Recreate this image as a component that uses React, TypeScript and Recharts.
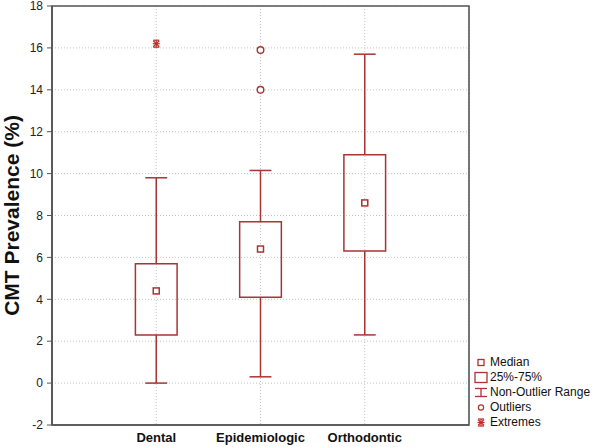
import React from "react";
import {
  ComposedChart,
  XAxis,
  YAxis,
  CartesianGrid,
  ReferenceArea,
  ReferenceLine,
  Scatter,
  Legend,
} from "recharts";

const categories = ["Dental", "Epidemiologic", "Orthodontic"];
const whiskerLow = [0.0, 0.3, 2.3];
const quartile1 = [2.3, 4.1, 6.3];
const medians = [4.4, 6.4, 8.6];
const quartile3 = [5.7, 7.7, 10.9];
const whiskerHigh = [9.8, 10.15, 15.7];
const outlierCategory = ["Epidemiologic", "Epidemiologic"];
const outlierValues = [14.0, 15.9];
const extremeCategory = ["Dental"];
const extremeValues = [16.2];
const yTicks = [-2, 0, 2, 4, 6, 8, 10, 12, 14, 16, 18];
const legendLabels = ["Median", "25%-75%", "Non-Outlier Range", "Outliers", "Extremes"];

const RED = "#a83434";
const EXT_RED = "#c42a2a";
const FRAME = "#555555";
const BOX_HALF = 0.2;
const CAP_HALF = 0.105;
const FONT = "'Liberation Sans', Arial, sans-serif";

const pos = (cat: string) => categories.indexOf(cat) + 1;

const medianData = categories.map((c, i) => ({ x: i + 1, y: medians[i] }));
const outlierData = outlierValues.map((v, i) => ({ x: pos(outlierCategory[i]), y: v }));
const extremeData = extremeValues.map((v, i) => ({ x: pos(extremeCategory[i]), y: v }));

const MedianShape = (p: any) => (
  <rect x={p.cx - 3} y={p.cy - 3} width={6} height={6} fill="#fff" stroke={RED} strokeWidth={1.5} />
);
const OutlierShape = (p: any) => (
  <circle cx={p.cx} cy={p.cy} r={3.3} fill="#fff" stroke={RED} strokeWidth={1.4} />
);
const ExtremeShape = (p: any) => (
  <g stroke={EXT_RED} strokeWidth={1.2}>
    <line x1={p.cx - 3.5} y1={p.cy} x2={p.cx + 3.5} y2={p.cy} />
    <line x1={p.cx} y1={p.cy - 3.5} x2={p.cx} y2={p.cy + 3.5} />
    <line x1={p.cx - 3} y1={p.cy - 3} x2={p.cx + 3} y2={p.cy + 3} />
    <line x1={p.cx - 3} y1={p.cy + 3} x2={p.cx + 3} y2={p.cy - 3} />
    <line x1={p.cx - 3} y1={p.cy - 3.5} x2={p.cx + 3} y2={p.cy - 3.5} />
    <line x1={p.cx - 3} y1={p.cy + 3.5} x2={p.cx + 3} y2={p.cy + 3.5} />
  </g>
);

const YLabel = (props: any) => {
  const vb = props.viewBox || { x: 0, y: 6, width: 52, height: 419 };
  const cx = vb.x + 11;
  const cy = vb.y + vb.height / 2;
  return (
    <text
      x={cx}
      y={cy}
      transform={`rotate(-90, ${cx}, ${cy})`}
      textAnchor="middle"
      dominantBaseline="central"
      fontFamily={FONT}
      fontWeight="bold"
      fontSize={21}
      fill="#111"
    >
      CMT Prevalence (%)
    </text>
  );
};

const legendIcon = (i: number) => {
  const cx = 10;
  const cy = 7.5;
  switch (i) {
    case 0:
      return <rect x={cx - 3} y={cy - 3} width={6} height={6} fill="#fff" stroke={RED} strokeWidth={1.3} />;
    case 1:
      return <rect x={cx - 6} y={cy - 5} width={12} height={10} fill="#fff" stroke={RED} strokeWidth={1.3} />;
    case 2:
      return (
        <g stroke={RED} strokeWidth={1.3}>
          <line x1={cx - 6} y1={cy - 4} x2={cx + 6} y2={cy - 4} />
          <line x1={cx} y1={cy - 4} x2={cx} y2={cy + 4} />
          <line x1={cx - 6} y1={cy + 4} x2={cx + 6} y2={cy + 4} />
        </g>
      );
    case 3:
      return <circle cx={cx} cy={cy} r={2.6} fill="#fff" stroke={RED} strokeWidth={1.2} />;
    default:
      return ExtremeShape({ cx, cy });
  }
};

const LegendContent = () => (
  <div style={{ fontFamily: FONT, fontSize: 12, color: "#111" }}>
    {legendLabels.map((label, i) => (
      <div key={label} style={{ display: "flex", alignItems: "center", height: 15 }}>
        <svg width={19} height={15} style={{ display: "block" }}>
          {legendIcon(i)}
        </svg>
        <span style={{ whiteSpace: "nowrap", lineHeight: "15px" }}>{label}</span>
      </div>
    ))}
  </div>
);

export default function App() {
  return (
    <div style={{ position: "absolute", left: 0, top: 0, width: 600, height: 447, background: "#fff" }}>
      <ComposedChart width={600} height={447} margin={{ top: 6, right: 131, left: 0, bottom: 0 }}>
        <CartesianGrid stroke="#c4c4c4" strokeDasharray="1 2" />
        <XAxis
          xAxisId={0}
          type="number"
          dataKey="x"
          domain={[0, 4]}
          ticks={[1, 2, 3]}
          allowDataOverflow
          tickFormatter={(v: number) => categories[v - 1] ?? ""}
          height={22}
          tickLine={false}
          tickMargin={2}
          axisLine={{ stroke: FRAME, strokeWidth: 1.6 }}
          tick={{ fontFamily: FONT, fontWeight: "bold", fontSize: 13, fill: "#111" }}
          interval={0}
        />
        <YAxis
          yAxisId={0}
          type="number"
          domain={[-2, 18]}
          ticks={yTicks}
          allowDataOverflow
          width={52}
          tickSize={5}
          tickMargin={4}
          interval={0}
          axisLine={{ stroke: FRAME, strokeWidth: 1.6 }}
          tickLine={{ stroke: FRAME }}
          tick={{ fontFamily: FONT, fontSize: 12, fill: "#222" }}
          label={<YLabel />}
        />
        <ReferenceArea
          x1={0}
          x2={4}
          y1={-2}
          y2={18}
          fill="none"
          fillOpacity={0}
          stroke={FRAME}
          strokeWidth={1.6}
        />
        {categories.map((c, i) => (
          <ReferenceLine
            key={`lw-${c}`}
            segment={[{ x: i + 1, y: whiskerLow[i] }, { x: i + 1, y: quartile1[i] }]}
            stroke={RED}
            strokeWidth={1.5}
          />
        ))}
        {categories.map((c, i) => (
          <ReferenceLine
            key={`hw-${c}`}
            segment={[{ x: i + 1, y: quartile3[i] }, { x: i + 1, y: whiskerHigh[i] }]}
            stroke={RED}
            strokeWidth={1.5}
          />
        ))}
        {categories.map((c, i) => (
          <ReferenceLine
            key={`lc-${c}`}
            segment={[{ x: i + 1 - CAP_HALF, y: whiskerLow[i] }, { x: i + 1 + CAP_HALF, y: whiskerLow[i] }]}
            stroke={RED}
            strokeWidth={1.5}
          />
        ))}
        {categories.map((c, i) => (
          <ReferenceLine
            key={`hc-${c}`}
            segment={[{ x: i + 1 - CAP_HALF, y: whiskerHigh[i] }, { x: i + 1 + CAP_HALF, y: whiskerHigh[i] }]}
            stroke={RED}
            strokeWidth={1.5}
          />
        ))}
        {categories.map((c, i) => (
          <ReferenceArea
            key={`box-${c}`}
            x1={i + 1 - BOX_HALF}
            x2={i + 1 + BOX_HALF}
            y1={quartile1[i]}
            y2={quartile3[i]}
            fill="#fff"
            fillOpacity={0}
            stroke={RED}
            strokeWidth={1.5}
          />
        ))}
        <Scatter data={medianData} dataKey="y" shape={MedianShape} isAnimationActive={false} />
        <Scatter data={outlierData} dataKey="y" shape={OutlierShape} isAnimationActive={false} />
        <Scatter data={extremeData} dataKey="y" shape={ExtremeShape} isAnimationActive={false} />
        <Legend
          layout="vertical"
          align="center"
          verticalAlign="middle"
          content={<LegendContent />}
          wrapperStyle={{ left: 471, top: 355, width: 129 }}
        />
      </ComposedChart>
    </div>
  );
}
